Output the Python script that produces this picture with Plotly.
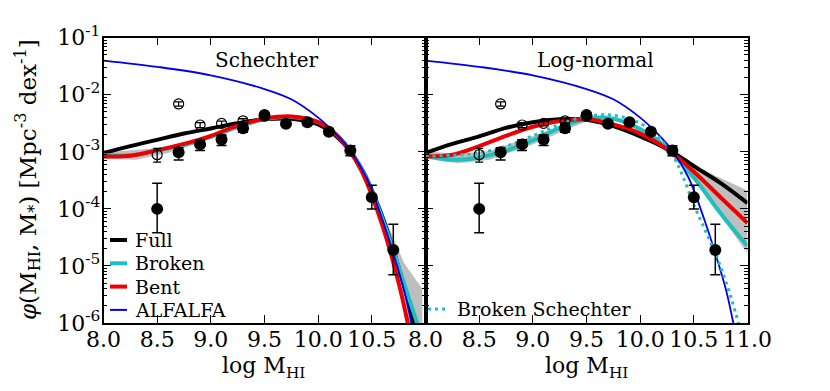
import plotly.graph_objects as go

# binned HI mass function points (same in both panels)
mass_bins = [8.5, 8.7, 8.9, 9.1, 9.3, 9.5, 9.7, 9.9, 10.1, 10.3, 10.5, 10.7]
phi_filled = [1.0e-4, 9.8e-4, 1.35e-3, 1.65e-3, 2.6e-3, 4.3e-3, 3.1e-3, 3.3e-3, 2.25e-3, 1.05e-3, 1.6e-4, 1.9e-5]
err_up_filled = [1.8e-4, 2.0e-4, 2.7e-4, 3.3e-4, 4.0e-4, 4.0e-4, 3.0e-4, 3.0e-4, 2.5e-4, 2.3e-4, 1.0e-4, 3.5e-5]
err_dn_filled = [6.2e-5, 2.6e-4, 3.0e-4, 3.6e-4, 4.0e-4, 4.0e-4, 3.0e-4, 3.0e-4, 2.5e-4, 2.0e-4, 6.0e-5, 1.2e-5]

open_bins = [8.5, 8.7, 8.9, 9.1, 9.3, 9.5]
phi_open = [8.9e-4, 6.9e-3, 2.95e-3, 3.15e-3, 3.5e-3, 4.5e-3]
err_up_open = [2.6e-4, 6.0e-4, 3.0e-4, 3.0e-4, 3.0e-4, 3.0e-4]
err_dn_open = [2.3e-4, 6.0e-4, 3.0e-4, 3.0e-4, 3.0e-4, 3.0e-4]

# ALFALFA curve (log10 phi), shown in both panels
alfalfa_x = [8.0, 8.5, 9.0, 9.5, 9.75, 10.0, 10.15, 10.3, 10.45, 10.6, 10.7, 10.8, 10.87]
alfalfa_log = [-1.40, -1.51, -1.66, -1.90, -2.08, -2.40, -2.66, -2.98, -3.45, -4.20, -4.78, -5.42, -6.02]

# Schechter panel fits (log10 phi)
sch_x = [8.0, 8.25, 8.5, 8.75, 9.0, 9.25, 9.5, 9.75, 10.0, 10.2, 10.4, 10.6]
sch_full = [-3.02, -2.90, -2.79, -2.68, -2.59, -2.50, -2.43, -2.42, -2.52, -2.78, -3.28, -4.15]
sch_broken = [-3.06, -3.06, -2.98, -2.88, -2.74, -2.56, -2.43, -2.39, -2.48, -2.75, -3.28, -4.18]
sch_bent = [-3.08, -3.07, -2.97, -2.86, -2.72, -2.54, -2.42, -2.38, -2.48, -2.76, -3.32, -4.30]
sch_full_tail_x, sch_full_tail = [10.8, 10.9], [-5.35, -6.05]
sch_broken_tail_x, sch_broken_tail = [10.8, 10.93], [-5.30, -6.05]
sch_bent_tail_x, sch_bent_tail = [10.75, 10.84], [-5.30, -6.05]

sch_band_hi_x = [8.0, 8.3, 8.6, 9.0, 9.5, 9.75, 10.0, 10.2, 10.4, 10.6, 10.8, 10.97, 10.97]
sch_band_hi = [-3.01, -2.96, -2.92, -2.71, -2.42, -2.40, -2.49, -2.74, -3.22, -4.05, -4.95, -5.40, -6.2]
sch_band_lo_x = [8.0, 8.3, 8.6, 9.0, 9.5, 9.75, 10.0, 10.2, 10.4, 10.6, 10.75, 10.86]
sch_band_lo = [-3.12, -3.14, -3.02, -2.77, -2.45, -2.41, -2.51, -2.79, -3.35, -4.35, -5.35, -6.2]

# Log-normal panel fits (log10 phi)
ln_x = [8.0, 8.25, 8.5, 8.75, 9.0, 9.25, 9.5, 9.75, 10.0, 10.25, 10.5, 10.75, 11.0]
ln_full = [-3.02, -2.86, -2.73, -2.58, -2.48, -2.43, -2.44, -2.55, -2.73, -2.95, -3.25, -3.55, -3.90]
ln_bent = [-3.08, -3.05, -2.90, -2.72, -2.56, -2.46, -2.43, -2.52, -2.68, -2.95, -3.35, -3.80, -4.25]
ln_broken_x = [8.0, 8.15, 8.3, 8.5, 8.75, 9.0, 9.25, 9.5, 9.75, 10.0, 10.25, 10.5, 10.75, 11.0]
ln_broken = [-3.06, -3.12, -3.14, -3.10, -2.98, -2.80, -2.58, -2.42, -2.42, -2.60, -2.93, -3.45, -4.08, -4.65]

bsch_x = [8.0, 8.25, 8.5, 8.75, 9.0, 9.25, 9.5, 9.75, 10.0, 10.15, 10.3, 10.4, 10.5, 10.6, 10.7, 10.8, 10.92]
bsch_log = [-3.08, -3.06, -3.02, -2.90, -2.72, -2.52, -2.38, -2.36, -2.50, -2.70, -3.05, -3.44, -3.93, -4.35, -4.78, -5.28, -6.02]

ln_band_hi_x = [8.0, 8.3, 8.6, 9.0, 9.5, 10.0, 10.3, 10.6, 11.0]
ln_band_hi = [-2.99, -3.04, -2.98, -2.72, -2.40, -2.62, -2.95, -3.33, -3.68]
ln_band_lo_x = [8.0, 8.3, 8.6, 9.0, 9.3, 9.5, 10.0, 10.3, 10.6, 11.0]
ln_band_lo = [-3.12, -3.20, -3.14, -2.87, -2.62, -2.47, -2.66, -3.08, -3.72, -4.78]

legend_left = ["Full", "Broken", "Bent", "ALFALFA"]
legend_right = ["Broken Schechter"]


def phi(logs):
    return [10 ** v for v in logs]


FONT = "DejaVu Serif"
BLACK, CYAN, RED, BLUE = "black", "#1fbfbf", "#ee0000", "#0000ee"
BAND = "rgba(110,110,110,0.45)"
W, H = 830, 391
OFF = 8  # page body margin offset


def px(x):
    return (x - OFF) / W


def py(y):
    return 1 - (y - OFF) / H


fig = go.Figure()


def add_band(xa, ya, hx, hy, lx, ly):
    fig.add_trace(go.Scatter(x=hx + lx[::-1], y=phi(hy + ly[::-1]), xaxis=xa, yaxis=ya,
                             fill="toself", fillcolor=BAND, line=dict(width=0),
                             mode="lines", showlegend=False, hoverinfo="skip"))


def add_line(xa, ya, x, y, color, width, name=None, dash="solid"):
    fig.add_trace(go.Scatter(x=x, y=phi(y), xaxis=xa, yaxis=ya, mode="lines",
                             line=dict(color=color, width=width, shape="spline", dash=dash),
                             name=name, showlegend=False))


def add_points(xa, ya):
    fig.add_trace(go.Scatter(x=open_bins, y=phi_open, xaxis=xa, yaxis=ya, mode="markers",
                             marker=dict(symbol="circle-open", size=10, color=BLACK, line=dict(width=1.2)),
                             error_y=dict(type="data", array=err_up_open, arrayminus=err_dn_open,
                                          color=BLACK, thickness=1.3, width=4),
                             showlegend=False))
    fig.add_trace(go.Scatter(x=mass_bins, y=phi_filled, xaxis=xa, yaxis=ya, mode="markers",
                             marker=dict(symbol="circle", size=12, color=BLACK),
                             error_y=dict(type="data", array=err_up_filled, arrayminus=err_dn_filled,
                                          color=BLACK, thickness=1.5, width=5),
                             showlegend=False))


# left: Schechter
add_band("x", "y", sch_band_hi_x, sch_band_hi, sch_band_lo_x, sch_band_lo)
add_line("x", "y", sch_x + sch_full_tail_x, sch_full + sch_full_tail, BLACK, 4, "Full")
add_line("x", "y", sch_x + sch_broken_tail_x, sch_broken + sch_broken_tail, CYAN, 4, "Broken")
add_line("x", "y", sch_x + sch_bent_tail_x, sch_bent + sch_bent_tail, RED, 4, "Bent")
add_line("x", "y", alfalfa_x, alfalfa_log, BLUE, 1.8, "ALFALFA")
add_points("x", "y")

# right: Log-normal
add_band("x2", "y2", ln_band_hi_x, ln_band_hi, ln_band_lo_x, ln_band_lo)
add_line("x2", "y2", ln_x, ln_full, BLACK, 4)
add_line("x2", "y2", ln_broken_x, ln_broken, CYAN, 4)
add_line("x2", "y2", ln_x, ln_bent, RED, 4)
add_line("x2", "y2", alfalfa_x, alfalfa_log, BLUE, 1.8)
add_line("x2", "y2", bsch_x, bsch_log, CYAN, 3, "Broken Schechter", dash="3px,4px")
add_points("x2", "y2")

# hand-placed legends (matplotlib style: short sample, tight rows)
shapes, annotations = [], []
left_styles = [(BLACK, 4, "solid"), (CYAN, 4, "solid"), (RED, 4, "solid"), (BLUE, 2, "solid")]
for i, (label, (col, lw, dash)) in enumerate(zip(legend_left, left_styles)):
    row = 240 + i * 23.3
    shapes.append(dict(type="line", xref="paper", yref="paper", x0=px(110), x1=px(127),
                       y0=py(row), y1=py(row), line=dict(color=col, width=lw, dash=dash)))
    annotations.append(dict(x=px(133), y=py(row), xref="paper", yref="paper", text=label,
                            xanchor="left", yanchor="middle", showarrow=False,
                            font=dict(family=FONT, size=19, color=BLACK)))
shapes.append(dict(type="line", xref="paper", yref="paper", x0=px(428), x1=px(449),
                   y0=py(309), y1=py(309), line=dict(color=CYAN, width=3, dash="3px,4px")))
annotations.append(dict(x=px(455), y=py(309), xref="paper", yref="paper", text=legend_right[0],
                        xanchor="left", yanchor="middle", showarrow=False,
                        font=dict(family=FONT, size=19, color=BLACK)))

annotations += [
    dict(x=9.52, y=-1.39, xref="x", yref="y", text="Schechter", showarrow=False,
         font=dict(family=FONT, size=20, color=BLACK)),
    dict(x=9.58, y=-1.39, xref="x2", yref="y2", text="Log-normal", showarrow=False,
         font=dict(family=FONT, size=20, color=BLACK)),
    # axis titles
    dict(x=px(263), y=py(367), xref="paper", yref="paper", text="log M<sub>HI</sub>",
         xanchor="center", yanchor="middle", showarrow=False, font=dict(family=FONT, size=22, color=BLACK)),
    dict(x=px(586), y=py(367), xref="paper", yref="paper", text="log M<sub>HI</sub>",
         xanchor="center", yanchor="middle", showarrow=False, font=dict(family=FONT, size=22, color=BLACK)),
    dict(x=px(27), y=py(180), xref="paper", yref="paper", textangle=-90, showarrow=False,
         xanchor="center", yanchor="middle",
         text="<i>φ</i>(M<sub>HI</sub>, M<sub>*</sub>) [Mpc<sup>-3</sup> dex<sup>-1</sup>]",
         font=dict(family=FONT, size=23, color=BLACK)),
]

minor_vals = [m * 10 ** e for e in range(-6, -1) for m in range(2, 10)]
y_major = [10 ** e for e in range(-6, 0)]
y_text = ["10<sup>%d</sup>" % e for e in range(-6, 0)]
x_major = [8.0, 8.5, 9.0, 9.5, 10.0, 10.5, 11.0]

axis_common = dict(showline=True, linecolor=BLACK, linewidth=1.5, mirror="allticks",
                   ticks="inside", ticklen=8, tickwidth=1.2, tickcolor=BLACK,
                   showgrid=False, zeroline=False, automargin=False,
                   tickfont=dict(family=FONT, size=22, color=BLACK))
yaxis_common = dict(axis_common, type="log", range=[-6, -1], tickvals=y_major,
                    domain=[py(323), py(37.7)],
                    minor=dict(ticks="inside", ticklen=4, tickwidth=1, tickcolor=BLACK, tickvals=minor_vals))

fig.update_layout(
    width=W, height=H, margin=dict(l=0, r=0, t=0, b=0),
    paper_bgcolor="white", plot_bgcolor="white", showlegend=False,
    font=dict(family=FONT, color=BLACK),
    xaxis=dict(axis_common, domain=[px(103.5), px(425.5)], range=[8, 11], anchor="y", tickangle=0,
               tickvals=x_major[:-1], ticktext=["%.1f" % v for v in x_major[:-1]], ticklabelstandoff=-4),
    xaxis2=dict(axis_common, domain=[px(425.5), px(747.5)], range=[8, 11], anchor="y2", tickangle=0,
                tickvals=x_major, ticktext=["%.1f" % v for v in x_major], ticklabelstandoff=-4),
    yaxis=dict(yaxis_common, anchor="x", ticktext=y_text, ticklabelstandoff=-3),
    yaxis2=dict(yaxis_common, anchor="x2", showticklabels=False),
    shapes=shapes,
    annotations=annotations,
)

fig.write_html("out.html")
